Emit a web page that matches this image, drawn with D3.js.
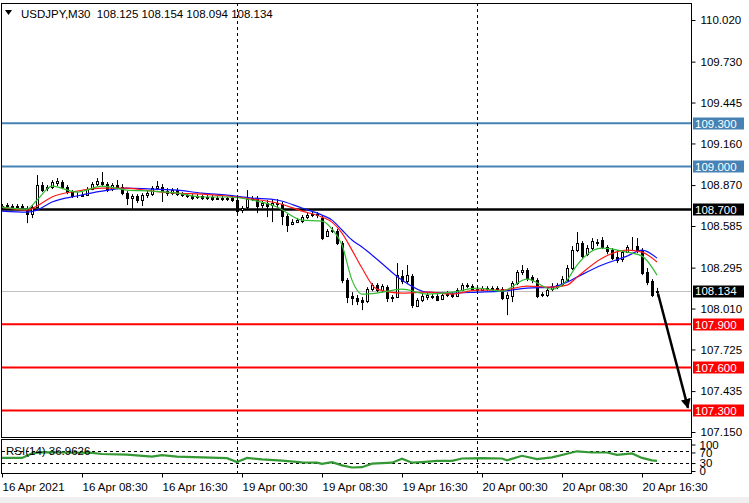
<!DOCTYPE html>
<html><head><meta charset="utf-8">
<script src="https://cdn.jsdelivr.net/npm/d3@7"></script>
<style>
body{margin:0;background:#fff}
svg{display:block}
text{font-family:"Liberation Sans",Arial,sans-serif;font-size:11.5px}
</style>
</head><body><svg id="c" width="749" height="503"></svg>
<script>
// ---------------- DATA ----------------
const symbolLabel = "USDJPY,M30";
const headerOHLC = ["108.125", "108.154", "108.094", "108.134"];

const openP = [
108.717,108.724,108.724,108.717,108.724,108.703,108.668,108.717,108.870,108.849,
108.856,108.884,108.891,108.856,108.821,108.800,108.794,108.800,108.842,108.877,
108.891,108.877,108.842,108.870,108.856,108.814,108.780,108.794,108.766,108.800,
108.807,108.849,108.856,108.828,108.814,108.835,108.807,108.800,108.794,108.787,
108.794,108.780,108.787,108.773,108.780,108.773,108.780,108.766,108.696,108.717,
108.773,108.780,108.731,108.745,108.731,108.745,108.738,108.654,108.598,108.612,
108.619,108.647,108.661,108.668,108.640,108.515,108.550,108.550,108.466,108.208,
108.097,108.083,108.069,108.062,108.145,108.173,108.138,108.159,108.083,108.090,
108.236,108.201,108.236,108.027,108.069,108.090,108.097,108.097,108.076,108.104,
108.111,108.097,108.138,108.173,108.166,108.145,108.138,108.152,108.145,108.152,
108.145,108.083,108.097,108.187,108.264,108.278,108.229,108.208,108.104,108.104,
108.145,108.159,108.180,108.208,108.292,108.417,108.466,108.389,108.431,108.473,
108.487,108.438,108.417,108.368,108.354,108.403,108.431,108.445,108.417,108.264,
108.201,108.125];
const highP = [
108.738,108.745,108.738,108.738,108.738,108.724,108.731,108.940,108.891,108.870,
108.905,108.919,108.905,108.870,108.835,108.821,108.821,108.856,108.891,108.919,
108.961,108.891,108.884,108.905,108.877,108.828,108.807,108.807,108.814,108.835,
108.863,108.898,108.877,108.849,108.849,108.849,108.821,108.814,108.807,108.807,
108.800,108.800,108.800,108.794,108.794,108.787,108.794,108.780,108.724,108.835,
108.794,108.794,108.759,108.766,108.766,108.773,108.752,108.668,108.633,108.640,
108.661,108.675,108.689,108.682,108.661,108.564,108.577,108.564,108.480,108.222,
108.124,108.104,108.090,108.159,108.187,108.187,108.180,108.173,108.104,108.327,
108.278,108.313,108.250,108.083,108.111,108.118,108.111,108.111,108.118,108.131,
108.124,108.152,108.187,108.187,108.180,108.166,108.166,108.166,108.166,108.166,
108.159,108.124,108.201,108.278,108.313,108.292,108.243,108.222,108.124,108.152,
108.187,108.187,108.236,108.313,108.445,108.543,108.480,108.452,108.501,108.494,
108.508,108.452,108.431,108.417,108.417,108.452,108.508,108.501,108.431,108.292,
108.215,108.154];
const lowP = [
108.703,108.710,108.703,108.710,108.703,108.605,108.640,108.710,108.821,108.828,
108.842,108.863,108.842,108.807,108.780,108.780,108.787,108.794,108.835,108.863,
108.863,108.821,108.828,108.842,108.800,108.731,108.696,108.745,108.724,108.780,
108.794,108.835,108.752,108.794,108.800,108.794,108.787,108.780,108.766,108.773,
108.766,108.766,108.759,108.766,108.759,108.759,108.752,108.661,108.675,108.703,
108.759,108.675,108.710,108.647,108.612,108.710,108.591,108.543,108.591,108.605,
108.605,108.633,108.647,108.640,108.487,108.508,108.536,108.452,108.187,108.048,
108.034,108.034,107.999,108.048,108.131,108.124,108.124,108.055,108.055,108.083,
108.180,108.180,108.013,108.020,108.055,108.069,108.076,108.062,108.069,108.090,
108.083,108.090,108.131,108.152,108.138,108.124,108.131,108.131,108.138,108.131,
108.069,107.964,108.055,108.173,108.243,108.201,108.187,108.083,108.090,108.090,
108.131,108.145,108.166,108.201,108.278,108.403,108.361,108.375,108.417,108.445,
108.424,108.389,108.348,108.327,108.334,108.396,108.410,108.396,108.243,108.173,
108.090,108.094];
const closeP = [
108.724,108.731,108.717,108.724,108.717,108.668,108.717,108.870,108.835,108.856,
108.891,108.898,108.856,108.821,108.794,108.799,108.800,108.842,108.877,108.898,
108.877,108.835,108.870,108.856,108.814,108.780,108.794,108.766,108.800,108.814,
108.849,108.863,108.828,108.814,108.835,108.807,108.800,108.794,108.780,108.794,
108.780,108.787,108.773,108.780,108.773,108.780,108.766,108.689,108.710,108.773,
108.780,108.724,108.745,108.724,108.745,108.738,108.654,108.591,108.612,108.626,
108.647,108.661,108.668,108.661,108.501,108.550,108.557,108.466,108.208,108.090,
108.083,108.062,108.055,108.145,108.173,108.138,108.166,108.083,108.090,108.243,
108.201,108.243,108.034,108.069,108.097,108.104,108.090,108.069,108.104,108.111,
108.097,108.138,108.173,108.166,108.145,108.138,108.152,108.145,108.152,108.145,
108.083,108.104,108.187,108.264,108.278,108.222,108.208,108.097,108.111,108.138,
108.166,108.173,108.215,108.292,108.417,108.466,108.375,108.431,108.480,108.466,
108.438,108.410,108.361,108.348,108.403,108.438,108.430,108.410,108.257,108.194,
108.104,108.134];

// moving averages at these bar indices
const maIdx = [0,5,7,10,15,20,25,30,35,40,45,50,55,60,64,66,68,70,72,75,80,85,90,95,100,105,110,113,115,120,125,128,131];
const maGreen = [108.717,108.703,108.766,108.863,108.821,108.863,108.835,108.828,108.814,108.787,108.787,108.766,108.717,108.626,108.619,108.564,108.452,108.208,108.111,108.118,108.145,108.111,108.124,108.152,108.131,108.215,108.145,108.208,108.313,108.431,108.403,108.375,108.243];
const maRed = [108.717,108.696,108.724,108.787,108.828,108.849,108.849,108.828,108.814,108.807,108.794,108.773,108.745,108.689,108.647,108.612,108.536,108.417,108.292,108.145,108.118,108.124,108.111,108.138,108.138,108.166,108.159,108.173,108.229,108.361,108.417,108.403,108.334];
const maBlue = [108.689,108.682,108.696,108.752,108.794,108.828,108.849,108.842,108.835,108.814,108.800,108.780,108.766,108.710,108.661,108.626,108.557,108.487,108.438,108.354,108.208,108.124,108.118,108.124,108.131,108.152,108.159,108.194,108.229,108.313,108.375,108.417,108.361];

// RSI(14)
const rsiIdx = [0,4,6,8,12,18,20,25,30,32,35,40,45,47,49,52,56,60,63,64,66,68,70,72,74,78,80,82,84,87,90,92,96,100,101,104,107,110,113,115,118,121,123,126,128,130,131];
const rsiVal = [47,47,62,66,65,64,60,58,51,56,51,49,46,33,47,42,38,32,31,27,33,22,15,16,28,31,44,31,33,37,37,45,46,45,39,54,43,49,61,69,65,65,57,62,47,39,36.96];
const rsiLabel = "RSI(14) 36.9626";
const rsiLevels = [70, 30];
const rsiTicks = [100, 70, 30, 0];

const priceTicks = [110.020,109.730,109.445,109.160,108.870,108.585,108.295,108.010,107.725,107.435,107.150];
const timeLabels = ["16 Apr 2021","16 Apr 08:30","16 Apr 16:30","19 Apr 00:30","19 Apr 08:30","19 Apr 16:30","20 Apr 00:30","20 Apr 08:30","20 Apr 16:30"];
const timeLabelIdx = [0,16,32,48,64,80,96,112,128];
const daySeparatorIdx = [47, 95];

const blueLevels = [109.300, 109.000];
const blackLevels = [108.700];
const redLevels = [107.900, 107.600, 107.300];
const currentPrice = 108.134;
const arrowFrom = {bar: 131.2, price: 108.115};
const arrowTo = {bar: 137.2, price: 107.318};

// ---------------- DRAW ----------------
const FONT = "'Liberation Sans',Arial,sans-serif";
const svg = d3.select("#c");
const L = 2, R = 691, T = 3, B = 437;
const RT = 439, RB = 473;
const x = d3.scaleLinear().domain([0, 131]).range([2, 657]);
const y = d3.scaleLinear().domain([107.150, 110.020]).range([432, 20]);
const ry = d3.scaleLinear().domain([0, 100]).range([472, 442]);
const ryLab = d3.scaleLinear().domain([0, 100]).range([471, 444.5]);

svg.append("rect").attr("width",749).attr("height",503).attr("fill","#fff");
svg.append("rect").attr("x",0).attr("y",497).attr("width",749).attr("height",6).attr("fill","#f0f0f0");

svg.append("clipPath").attr("id","mainClip").append("rect").attr("x",L).attr("y",T).attr("width",R-L).attr("height",B-T);
svg.append("clipPath").attr("id","rsiClip").append("rect").attr("x",L).attr("y",RT).attr("width",R-L).attr("height",RB-RT);

const main = svg.append("g").attr("clip-path","url(#mainClip)");

// day separators
daySeparatorIdx.forEach(i => {
  svg.append("line").attr("x1",Math.round(x(i))+0.5).attr("x2",Math.round(x(i))+0.5)
    .attr("y1",T).attr("y2",RB).attr("stroke","#000").attr("stroke-dasharray","3,3").attr("stroke-width",1);
});

// current price line
main.append("line").attr("x1",L).attr("x2",R).attr("y1",Math.round(y(currentPrice))+0.5).attr("y2",Math.round(y(currentPrice))+0.5)
  .attr("stroke","#c0c0c0").attr("stroke-width",1);

// horizontal levels
function level(p, col, w){
  main.append("line").attr("x1",L).attr("x2",R).attr("y1",y(p)).attr("y2",y(p)).attr("stroke",col).attr("stroke-width",w);
}
blueLevels.forEach(p => level(p,"#4682b4",2));
blackLevels.forEach(p => level(p,"#000",2.5));
redLevels.forEach(p => level(p,"#ff0000",2));

// candles
const bars = d3.range(openP.length).map(i => ({i, o:openP[i], h:highP[i], l:lowP[i], c:closeP[i]}));
const cg = main.append("g");
bars.forEach(d => {
  const cx = Math.round(x(d.i));
  cg.append("line").attr("x1",cx+0.5).attr("x2",cx+0.5).attr("y1",y(d.h)).attr("y2",y(d.l)).attr("stroke","#000").attr("stroke-width",1);
  const top = Math.round(y(Math.max(d.o,d.c))), bot = Math.round(y(Math.min(d.o,d.c)));
  cg.append("rect").attr("x",cx-0.5).attr("y",top+0.5).attr("width",2).attr("height",Math.max(0,bot-top))
    .attr("fill", d.c >= d.o ? "#fff" : "#000").attr("stroke","#000").attr("stroke-width",1);
});

// moving averages
function maLine(vals, col){
  const line = d3.line().x((v,k)=>x(maIdx[k])).y(v=>y(v)).curve(d3.curveMonotoneX);
  main.append("path").attr("d",line(vals)).attr("fill","none").attr("stroke",col).attr("stroke-width",1.2);
}
maLine(maBlue,"#1010ff");
maLine(maRed,"#ff1a1a");
maLine(maGreen,"#33bb33");

// arrow
svg.append("defs").append("marker").attr("id","ah").attr("viewBox","0 0 10 10").attr("refX",9).attr("refY",5)
  .attr("markerWidth",4).attr("markerHeight",4).attr("orient","auto")
  .append("path").attr("d","M0,0 L10,5 L0,10 z").attr("fill","#000");
svg.append("line").attr("x1",x(arrowFrom.bar)).attr("y1",y(arrowFrom.price)).attr("x2",x(arrowTo.bar)).attr("y2",y(arrowTo.price))
  .attr("stroke","#000").attr("stroke-width",2.5).attr("marker-end","url(#ah)");

// main border
svg.append("rect").attr("x",L-0.5).attr("y",T+0.5).attr("width",R-L+1).attr("height",B-T).attr("fill","none").attr("stroke","#000");

// header
svg.append("path").attr("d","M5,10 L12,10 L8.5,15 z").attr("fill","#000");
svg.append("text").attr("x",21).attr("y",18).attr("xml:space","preserve").style("white-space","pre")
  .text(symbolLabel + "  " + headerOHLC.join(" "));

// price axis
const ax = svg.append("g").attr("transform",`translate(${R+0.5},0)`)
  .call(d3.axisRight(y).tickValues(priceTicks).tickFormat(d3.format(".3f")).tickSize(4).tickPadding(5));
ax.select(".domain").remove();
ax.selectAll("text").attr("font-size","11.5px").attr("font-family",FONT).attr("fill","#000");
ax.selectAll("line").attr("stroke","#000");

// price tags
function tag(p, bg){
  const g = svg.append("g");
  g.append("rect").attr("x",693).attr("y",Math.round(y(p))-5.5).attr("width",51).attr("height",12).attr("fill",bg);
  g.append("text").attr("x",695).attr("y",y(p)).attr("dy","0.37em").attr("fill","#fff").text(d3.format(".3f")(p));
}
blueLevels.forEach(p => tag(p,"#4682b4"));
blackLevels.forEach(p => tag(p,"#000"));
tag(currentPrice,"#000");
redLevels.forEach(p => tag(p,"#ff0000"));

// RSI panel
const rg = svg.append("g").attr("clip-path","url(#rsiClip)");
rsiLevels.forEach(v => {
  rg.append("line").attr("x1",L).attr("x2",R).attr("y1",Math.round(ry(v))+0.5).attr("y2",Math.round(ry(v))+0.5)
    .attr("stroke","#000").attr("stroke-dasharray","3,3");
});
rg.append("path").attr("d", d3.line().x((v,k)=>x(rsiIdx[k])).y(v=>ry(v))(rsiVal))
  .attr("fill","none").attr("stroke","#349834").attr("stroke-width",2.2);
svg.append("text").attr("x",6).attr("y",455).text(rsiLabel);
svg.append("rect").attr("x",L-0.5).attr("y",RT+0.5).attr("width",R-L+1).attr("height",RB-RT).attr("fill","none").attr("stroke","#000");
const rax = svg.append("g").attr("transform",`translate(${R+0.5},0)`)
  .call(d3.axisRight(ryLab).tickValues(rsiTicks).tickFormat(d3.format("d")).tickSize(4).tickPadding(4));
rax.select(".domain").remove();
rax.selectAll("text").attr("font-size","7px").attr("font-family",FONT).attr("fill","#000");
rax.selectAll("line").attr("stroke","#000");

// time axis
const tx = svg.append("g").attr("transform",`translate(0,${RB+0.5})`)
  .call(d3.axisBottom(x).tickValues(timeLabelIdx).tickFormat((d,k)=>timeLabels[k]).tickSize(4).tickPadding(5));
tx.select(".domain").remove();
tx.selectAll("text").attr("text-anchor","start").attr("font-size","11.5px").attr("font-family",FONT).attr("fill","#000");
tx.selectAll("line").attr("stroke","#000");
</script>
</body></html>
